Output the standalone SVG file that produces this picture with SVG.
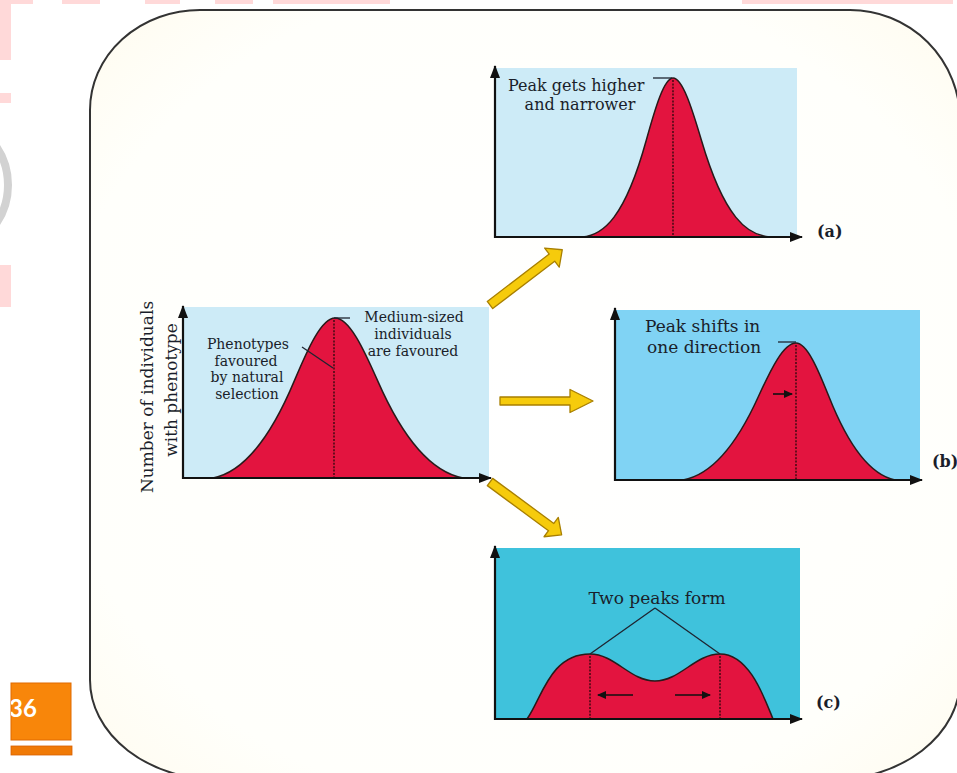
<svg xmlns="http://www.w3.org/2000/svg" width="957" height="773" viewBox="0 0 957 773">
<defs>
<style>
.frame{fill:url(#cream);stroke:#333;stroke-width:2}
.pink{fill:#ffd9d9}
.axis{stroke:#111;stroke-width:2.2;fill:none;marker-end:url(#ax)}
.curve{fill:#e3143f;stroke:#2a1a1a;stroke-width:1.5;stroke-linejoin:round}
.dot{stroke:#4a0a14;stroke-width:1.6;stroke-dasharray:2 1.4;fill:none}
.lead{stroke:#1e2430;stroke-width:1.3;fill:none}
.sm{stroke:#111;stroke-width:1.6;fill:none;marker-end:url(#sm)}
.lbl{font-family:"DejaVu Serif","Liberation Serif",serif;fill:#1a1e2a}
.s14{font-size:14px}
.s16{font-size:16px}
.s17{font-size:17px}
.tag{font-family:"DejaVu Serif","Liberation Serif",serif;font-size:16px;font-weight:bold;fill:#1a1e2a}
.yarrow{fill:#f6cb0c;stroke:#a87f00;stroke-width:1.3;stroke-linejoin:round}
</style>
<radialGradient id="cream" cx="0.5" cy="0.5" r="0.72">
<stop offset="0" stop-color="#ffffff"/>
<stop offset="0.75" stop-color="#fffffb"/>
<stop offset="1" stop-color="#fffbee"/>
</radialGradient>
<marker id="ax" markerUnits="userSpaceOnUse" markerWidth="13" markerHeight="10" refX="12" refY="5" orient="auto">
<path d="M0,0 L13,5 L0,10 Z" fill="#111"/>
</marker>
<marker id="sm" markerUnits="userSpaceOnUse" markerWidth="9" markerHeight="8" refX="8" refY="4" orient="auto">
<path d="M0,0 L9,4 L0,8 Z" fill="#111"/>
</marker>
<clipPath id="badgeclip"><rect x="11" y="683" width="60" height="57"/></clipPath>
</defs>

<rect width="957" height="773" fill="#ffffff"/>
<g id="background-remnants">
<rect class="pink" x="0" y="0" width="33" height="4"/>
<rect class="pink" x="62" y="0" width="38" height="4"/>
<rect class="pink" x="145" y="0" width="35" height="4"/>
<rect class="pink" x="215" y="0" width="38" height="4"/>
<rect class="pink" x="273" y="0" width="117" height="4"/>
<rect class="pink" x="742" y="0" width="211" height="4"/>
<rect class="pink" x="0" y="0" width="11" height="60"/>
<rect class="pink" x="0" y="93" width="11" height="10"/>
<rect class="pink" x="0" y="265" width="11" height="42"/>
<circle cx="-60" cy="185" r="68" fill="none" stroke="#d2d2d2" stroke-width="8"/>
</g>

<path class="frame" d="M200,10 L850,10 A110,110 0 0 1 960,120 L960,680 A130,100 0 0 1 830,780 L220,780 A130,100 0 0 1 90,680 L90,110 A110,100 0 0 1 200,10 Z"/>

<g id="panel-main">
<rect x="183" y="307" width="306" height="172" fill="#cdebf7"/>
<path class="curve" d="M213,478 C240.1,472.7 267.2,445.7 294.3,380.9 C307.9,348.6 321.5,318 335,318 C349.2,318 363.5,348.6 377.7,380.9 C406.1,445.7 434.6,472.7 463,478 Z"/>
<line class="dot" x1="334" y1="320" x2="334" y2="478"/>
<line class="lead" x1="334" y1="318" x2="350" y2="318"/>
<line class="lead" x1="302" y1="347" x2="333" y2="368"/>
<line class="axis" x1="183" y1="479" x2="183" y2="306"/>
<line class="axis" x1="182" y1="478" x2="491" y2="478"/>
<text class="lbl s14" text-anchor="middle" x="414" y="322">Medium-sized</text>
<text class="lbl s14" text-anchor="middle" x="413" y="339">individuals</text>
<text class="lbl s14" text-anchor="middle" x="413" y="356">are favoured</text>
<text class="lbl s14" text-anchor="middle" x="248" y="349">Phenotypes</text>
<text class="lbl s14" text-anchor="middle" x="246" y="365.5">favoured</text>
<text class="lbl s14" text-anchor="middle" x="247" y="382">by natural</text>
<text class="lbl s14" text-anchor="middle" x="247" y="398.5">selection</text>
<text class="lbl s17" text-anchor="middle" transform="translate(153,397) rotate(-90)">Number of individuals</text>
<text class="lbl s17" text-anchor="middle" transform="translate(177,390) rotate(-90)">with phenotype</text>
</g>

<g id="panel-a">
<rect x="495" y="68" width="302" height="169" fill="#cdebf7"/>
<path class="curve" d="M582,237 C603.3,235.3 624.8,217.8 646.2,140.5 C655.1,108.4 664.1,78 673,78 C682.5,78 692,108.4 701.5,140.5 C724.3,217.8 747.1,235.3 770,237 Z"/>
<line class="dot" x1="673" y1="80" x2="673" y2="237"/>
<line class="lead" x1="653" y1="78" x2="672" y2="78"/>
<line class="axis" x1="495" y1="238" x2="495" y2="66"/>
<line class="axis" x1="494" y1="237" x2="802" y2="237"/>
<text class="lbl s16" x="508" y="91">Peak gets higher</text>
<text class="lbl s16" text-anchor="middle" x="580" y="110">and narrower</text>
<text class="tag" x="817" y="237">(a)</text>
</g>

<g id="panel-b">
<rect x="615" y="310" width="305" height="170" fill="#80d3f4"/>
<path class="curve" d="M683,480 C708.1,475.5 733.2,452.3 758.3,396.8 C770.9,369.2 783.5,343 796,343 C807,343 818,369.2 829,396.8 C851,452.3 873,475.5 895,480 Z"/>
<line class="dot" x1="796" y1="345" x2="796" y2="480"/>
<line class="lead" x1="778" y1="342" x2="796" y2="342"/>
<line class="sm" x1="773" y1="394" x2="792" y2="394"/>
<line class="axis" x1="615" y1="481" x2="615" y2="308"/>
<line class="axis" x1="614" y1="480" x2="922" y2="480"/>
<text class="lbl s17" x="645" y="332">Peak shifts in</text>
<text class="lbl s17" x="647" y="353">one direction</text>
<text class="tag" x="932" y="467">(b)</text>
</g>

<g id="panel-c">
<rect x="495" y="548" width="305" height="171" fill="#3fc2dc"/>
<path class="curve" d="M527,719 C542,698 550,654 590,654 C615,654 630,681 655,681 C680,681 695,654 720,654 C750,654 765,700 773,719 Z"/>
<line class="dot" x1="590" y1="656" x2="590" y2="719"/>
<line class="dot" x1="720" y1="656" x2="720" y2="719"/>
<line class="lead" x1="590" y1="654" x2="655" y2="608"/>
<line class="lead" x1="720" y1="654" x2="655" y2="608"/>
<line class="sm" x1="633" y1="695" x2="598" y2="695"/>
<line class="sm" x1="675" y1="695" x2="710" y2="695"/>
<line class="axis" x1="495" y1="720" x2="495" y2="546"/>
<line class="axis" x1="494" y1="719" x2="802" y2="719"/>
<text class="lbl s17" text-anchor="middle" x="657" y="604">Two peaks form</text>
<text class="tag" x="816" y="708">(c)</text>
</g>

<g id="connectors">
<polygon class="yarrow" transform="translate(490,305) rotate(-37.4)" points="0,-4.5 78,-4.5 78,-12 91,0 78,12 78,4.5 0,4.5"/>
<polygon class="yarrow" transform="translate(500,401)" points="0,-4 70,-4 70,-11.5 93,0 70,11.5 70,4 0,4"/>
<polygon class="yarrow" transform="translate(490,482) rotate(36.4)" points="0,-4.5 76,-4.5 76,-12 89,0 76,12 76,4.5 0,4.5"/>
</g>

<g id="badge">
<rect x="11" y="683" width="60" height="57" fill="#f8860a" stroke="#e06a00" stroke-width="1"/>
<text clip-path="url(#badgeclip)" x="9" y="717" font-family="Lato,'Open Sans',sans-serif" font-weight="bold" font-size="24" fill="#ffffff">36</text>
<rect x="11" y="746" width="61" height="9" fill="#f07a06" stroke="#d86000" stroke-width="0.8"/>
</g>
</svg>
